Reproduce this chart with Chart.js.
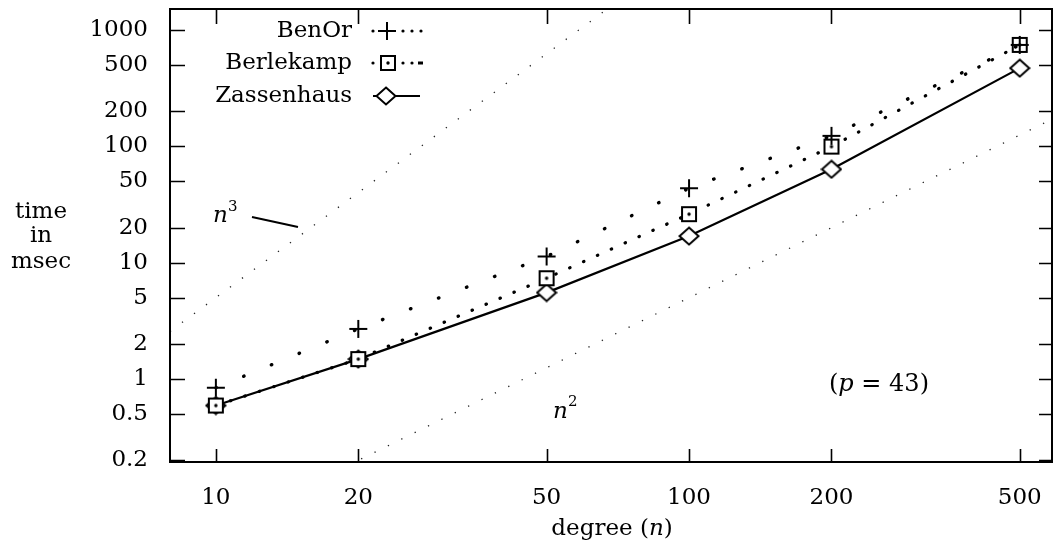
<!DOCTYPE html>
<html><head><meta charset="utf-8">
<script src="https://cdn.jsdelivr.net/npm/chart.js@4.4.0/dist/chart.umd.min.js"></script>
<style>html,body{margin:0;padding:0;background:#fff;} #wrap{width:1055px;height:548px;position:relative;} canvas{display:block;}</style>
</head><body><div id="wrap"><canvas id="c" width="1055" height="548"></canvas></div>
<script>
// ---- data ----
const degrees = [10, 20, 50, 100, 200, 500];
const benOr = [0.84, 2.69, 11.3, 43.6, 123, 745];
const berlekamp = [0.59, 1.48, 7.34, 26.1, 99.4, 745];
const zassenhaus = [0.59, 1.48, 5.52, 16.9, 63.5, 470];
// guide lines (endpoints)
const n3GuideX = [8, 70];
const n3GuideY = [2.56, 1715];
const n2GuideX = [19, 600];
const n2GuideY = [0.18, 180];
const xTicks = [10, 20, 50, 100, 200, 500];
const xTickLabels = ['10', '20', '50', '100', '200', '500'];
const yTicks = [0.2, 0.5, 1, 2, 5, 10, 20, 50, 100, 200, 500, 1000];
const yTickLabels = ['0.2', '0.5', '1', '2', '5', '10', '20', '50', '100', '200', '500', '1000'];
const seriesNames = ['BenOr', 'Berlekamp', 'Zassenhaus'];

const FONT = '"DejaVu Serif"';
const pts = (xs, ys) => xs.map((x, i) => ({x: x, y: ys[i]}));

function makeCanvas(w, h, draw) {
  const c = document.createElement('canvas');
  c.width = w; c.height = h;
  const g = c.getContext('2d');
  draw(g);
  return c;
}
const plusImg = makeCanvas(20, 20, g => {
  g.strokeStyle = '#000'; g.lineWidth = 2;
  g.beginPath(); g.moveTo(1, 10); g.lineTo(19, 10); g.moveTo(10, 1); g.lineTo(10, 19); g.stroke();
});
const squareImg = makeCanvas(18, 18, g => {
  g.fillStyle = '#fff'; g.fillRect(2, 2, 14, 14);
  g.strokeStyle = '#000'; g.lineWidth = 2; g.strokeRect(2, 2, 14, 14);
  g.fillStyle = '#000'; g.beginPath(); g.arc(9, 9, 1.7, 0, Math.PI * 2); g.fill();
});
const diamondImg = makeCanvas(22, 20, g => {
  g.beginPath(); g.moveTo(11, 1.5); g.lineTo(20.5, 10); g.lineTo(11, 18.5); g.lineTo(1.5, 10); g.closePath();
  g.fillStyle = '#fff'; g.fill();
  g.strokeStyle = '#000'; g.lineWidth = 2; g.stroke();
});

const decor = {
  id: 'decor',
  afterDraw(chart) {
    const ctx = chart.ctx;
    const a = chart.chartArea;
    const xs = chart.scales.x, ys = chart.scales.y;
    ctx.save();
    ctx.strokeStyle = '#000';
    ctx.fillStyle = '#000';
    // frame
    ctx.lineWidth = 2;
    ctx.strokeRect(a.left, a.top, a.right - a.left, a.bottom - a.top);
    // ticks
    ctx.lineWidth = 1.6;
    ctx.beginPath();
    xTicks.forEach(v => {
      const px = Math.round(xs.getPixelForValue(v)) + 0.5;
      ctx.moveTo(px, a.bottom); ctx.lineTo(px, a.bottom - 13);
      ctx.moveTo(px, a.top); ctx.lineTo(px, a.top + 15);
    });
    yTicks.forEach(v => {
      const py = Math.round(ys.getPixelForValue(v)) + 0.5;
      ctx.moveTo(a.left, py); ctx.lineTo(a.left + 15, py);
      ctx.moveTo(a.right, py); ctx.lineTo(a.right - 13, py);
    });
    ctx.stroke();

    // legend
    ctx.font = '23px ' + FONT;
    ctx.textAlign = 'right';
    ctx.textBaseline = 'middle';
    const rows = [31, 63, 96];
    seriesNames.forEach((n, i) => ctx.fillText(n, 352, rows[i]));
    const dot = (x, y, r) => { ctx.beginPath(); ctx.arc(x, y, r, 0, Math.PI * 2); ctx.fill(); };
    // BenOr sample
    [373, 403, 412, 421].forEach(x => dot(x, rows[0], 1.6));
    ctx.drawImage(plusImg, 387 - 10, rows[0] - 10);
    // Berlekamp sample
    [373, 403, 412].forEach(x => dot(x, rows[1], 1.6));
    ctx.lineWidth = 3; ctx.beginPath(); ctx.moveTo(418, rows[1]); ctx.lineTo(423, rows[1]); ctx.stroke();
    ctx.drawImage(squareImg, 388 - 9, rows[1] - 9);
    // Zassenhaus sample
    ctx.lineWidth = 2.2; ctx.beginPath(); ctx.moveTo(373, rows[2]); ctx.lineTo(420, rows[2]); ctx.stroke();
    ctx.drawImage(diamondImg, 386 - 11, rows[2] - 10);

    // y-axis title
    ctx.textAlign = 'center';
    ctx.font = '23px ' + FONT;
    ctx.fillText('time', 41, 212);
    ctx.fillText('in', 41, 236);
    ctx.fillText('msec', 41, 262);

    // x-axis title with italic n
    ctx.textAlign = 'left';
    ctx.textBaseline = 'alphabetic';
    const parts = [['degree (', '23px ' + FONT], ['n', 'italic 23px ' + FONT], [')', '23px ' + FONT]];
    let total = 0;
    parts.forEach(p => { ctx.font = p[1]; total += ctx.measureText(p[0]).width; });
    let cx = 612 - total / 2;
    parts.forEach(p => { ctx.font = p[1]; ctx.fillText(p[0], cx, 535); cx += ctx.measureText(p[0]).width; });

    // n^3 annotation
    ctx.font = 'italic 23px ' + FONT;
    ctx.fillText('n', 213, 222);
    ctx.font = '15px ' + FONT;
    ctx.fillText('3', 228, 211);
    ctx.lineWidth = 2;
    ctx.beginPath(); ctx.moveTo(252, 217); ctx.lineTo(298, 227); ctx.stroke();

    // n^2 annotation
    ctx.font = 'italic 23px ' + FONT;
    ctx.fillText('n', 553, 418);
    ctx.font = '15px ' + FONT;
    ctx.fillText('2', 568, 406);

    // (p = 43)
    const pparts = [['(', '24px ' + FONT], ['p', 'italic 24px ' + FONT], [' = 43)', '24px ' + FONT]];
    let px2 = 829;
    pparts.forEach(p => { ctx.font = p[1]; ctx.fillText(p[0], px2, 391); px2 += ctx.measureText(p[0]).width; });
    ctx.restore();
  }
};

Chart.defaults.color = '#000';
Chart.defaults.font.family = FONT;

const zeroPad = s => { s.paddingTop = 0; s.paddingBottom = 0; s.paddingLeft = 0; s.paddingRight = 0; };

new Chart(document.getElementById('c'), {
  type: 'scatter',
  data: {
    datasets: [
      { label: seriesNames[0], data: pts(degrees, benOr), showLine: true, borderColor: '#000', borderWidth: 3.4,
        borderDash: [0.5, 29.5], borderCapStyle: 'round', pointStyle: plusImg, pointRadius: 9 },
      { label: seriesNames[1], data: pts(degrees, berlekamp), showLine: true, borderColor: '#000', borderWidth: 3.2,
        borderDash: [0.5, 14.7], borderCapStyle: 'round', pointStyle: squareImg, pointRadius: 9 },
      { label: seriesNames[2], data: pts(degrees, zassenhaus), showLine: true, borderColor: '#000', borderWidth: 2.2,
        pointStyle: diamondImg, pointRadius: 9 },
      { label: 'n3', data: pts(n3GuideX, n3GuideY), showLine: true, borderColor: '#222', borderWidth: 1.3,
        borderDash: [1.3, 13.6], pointRadius: 0 },
      { label: 'n2', data: pts(n2GuideX, n2GuideY), showLine: true, borderColor: '#222', borderWidth: 1.3,
        borderDash: [1.3, 13.6], pointRadius: 0 }
    ]
  },
  options: {
    responsive: false,
    animation: false,
    devicePixelRatio: 1,
    layout: { autoPadding: false, padding: { top: 9, right: 3, left: 0, bottom: 0 } },
    plugins: { legend: { display: false }, title: { display: false }, tooltip: { enabled: false } },
    scales: {
      x: {
        type: 'logarithmic', position: 'bottom', min: 8, max: 585,
        grid: { display: false, drawTicks: false }, border: { display: false },
        ticks: { padding: 22, autoSkip: false, maxRotation: 0, color: '#000',
          font: { family: FONT, size: 23 }, callback: (v, i) => xTickLabels[i] },
        afterBuildTicks: s => { s.ticks = xTicks.map(v => ({ value: v })); },
        afterFit: s => { s.height = 86; zeroPad(s); }
      },
      y: {
        type: 'logarithmic', position: 'left', min: 0.193, max: 1516,
        grid: { display: false, drawTicks: false }, border: { display: false },
        ticks: { padding: 22, autoSkip: false, color: '#000',
          font: { family: FONT, size: 23 }, callback: (v, i) => yTickLabels[i] },
        afterBuildTicks: s => { s.ticks = yTicks.map(v => ({ value: v })); },
        afterFit: s => { s.width = 170; zeroPad(s); }
      }
    }
  },
  plugins: [decor]
});
</script>
</body></html>
